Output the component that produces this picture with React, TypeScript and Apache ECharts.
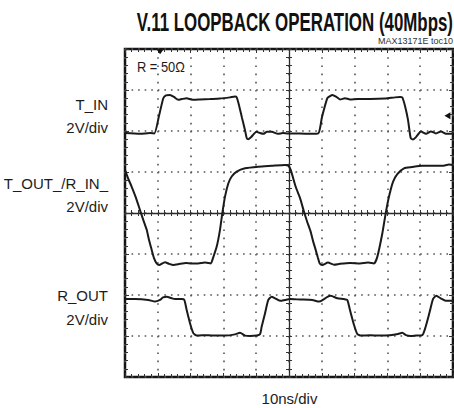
import React, { useEffect, useRef } from 'react';
import * as echarts from 'echarts';

// Time in ns (10 ns/div, trigger at centre), amplitude in divisions
const tInTime = [-50, -45.43, -42.38, -41.07, -39.63, -38.32, -37.5, -36.28, -35.06, -33.75, -32.62, -31.19, -29.88, -28.66, -27.13, -24.09, -21.04, -17.99, -16.46, -15.95, -15.24, -14.33, -13.41, -12.9, -12.41, -11.59, -9.86, -8.84, -7.83, -6.71, -5.27, -3.35, -1.83, -0.3, 3.35, 6.4, 8.93, 10.06, 11.68, 12.5, 13.2, 14.33, 15.55, 17.07, 18.6, 21.04, 24.7, 29.27, 32.32, 33.84, 34.54, 35.37, 36.28, 37.1, 37.8, 38.72, 40.24, 41.77, 43.29, 44.82, 46.34, 47.87, 50];
const tInVolts = [1.95, 1.93, 1.95, 1.94, 2.37, 2.8, 2.87, 2.88, 2.83, 2.76, 2.78, 2.8, 2.77, 2.76, 2.77, 2.78, 2.79, 2.82, 2.84, 2.82, 2.63, 2.32, 2.02, 1.83, 1.8, 1.85, 1.98, 1.95, 1.93, 1.98, 1.98, 1.93, 1.95, 1.94, 1.94, 1.93, 1.94, 2.34, 2.8, 2.85, 2.88, 2.84, 2.77, 2.8, 2.77, 2.78, 2.78, 2.79, 2.82, 2.83, 2.82, 2.61, 2.27, 1.83, 1.79, 1.85, 1.99, 1.93, 1.99, 1.94, 1.99, 1.93, 1.94];

const tOutTime = [-50, -49.09, -47.96, -46.65, -45.43, -44.51, -43.38, -42.68, -41.86, -41.16, -40.34, -39.63, -37.8, -36.59, -35.27, -33.23, -31.4, -29.66, -27.74, -25.61, -23.78, -23.38, -22.04, -21.04, -20.34, -19.51, -18.51, -17.47, -15.95, -13.41, -9.36, -5.27, -1.22, -0.21, 0.52, 2.04, 3.35, 4.57, 5.49, 6.62, 7.32, 8.14, 8.84, 9.36, 10.15, 11.89, 13.72, 15.55, 18.6, 21.65, 24.09, 25.91, 26.92, 28.45, 29.48, 30.49, 31.71, 33.02, 35.06, 37.5, 40.64, 43.6, 46.74, 48.78, 50];
const tOutVolts = [1.05, 0.85, 0.64, 0.37, 0.07, -0.15, -0.41, -0.66, -0.9, -1.1, -1.23, -1.27, -1.2, -1.24, -1.27, -1.24, -1.22, -1.23, -1.23, -1.21, -1.23, -1.15, -0.82, -0.41, -0.01, 0.4, 0.72, 0.89, 1.01, 1.09, 1.13, 1.15, 1.17, 1.15, 1.05, 0.64, 0.37, 0.03, -0.2, -0.46, -0.68, -0.9, -1.1, -1.23, -1.27, -1.21, -1.26, -1.24, -1.22, -1.23, -1.21, -1.23, -1.07, -0.5, -0.01, 0.4, 0.76, 0.95, 1.09, 1.12, 1.15, 1.15, 1.15, 1.18, 1.17];

const rOutTime = [-50, -46.95, -42.9, -40.85, -39.33, -38.41, -37.29, -35.76, -34.76, -32.71, -31.92, -31.19, -30.18, -29.18, -28.14, -26.52, -24.6, -22.56, -19.51, -16.46, -14.94, -13.41, -11.89, -9.85, -8.84, -8.32, -7.32, -6.31, -5.27, -4.27, -2.74, -1.22, 0.3, 3.35, 7.1, 9.15, 10.67, 11.59, 12.71, 14.73, 16.77, 17.77, 18.6, 19.82, 20.82, 21.95, 24.7, 27.74, 30.79, 33.23, 34.54, 35.67, 37.1, 38.72, 40.64, 41.68, 42.9, 43.9, 44.91, 46.25, 47.78, 50];
const rOutVolts = [-2.1, -2.1, -2.12, -2.16, -2.12, -2.06, -2.04, -2.08, -2.1, -2.1, -2.12, -2.37, -2.69, -2.93, -2.99, -2.98, -2.98, -2.99, -2.99, -2.96, -2.92, -2.99, -3.0, -2.99, -2.96, -2.77, -2.45, -2.12, -2.04, -2.08, -2.14, -2.12, -2.1, -2.11, -2.12, -2.16, -2.1, -2.05, -2.02, -2.08, -2.1, -2.12, -2.37, -2.73, -2.95, -2.99, -2.98, -2.99, -2.98, -2.95, -2.92, -2.98, -3.0, -2.99, -2.98, -2.77, -2.41, -2.1, -2.02, -2.08, -2.14, -2.14];

// scope markers (decorations, in data units)
const triggerMarker = [-39.3, 3.93];
const levelMarker = [48.3, 2.37];

const channelLabels = ['T_IN', 'T_OUT_/R_IN_', 'R_OUT'];
const scaleLabel = '2V/div';
const timeLabel = '10ns/div';
const titleText = 'V.11 LOOPBACK OPERATION (40Mbps)';
const subTitleText = 'MAX13171E toc10';
const noteText = 'R = 50Ω';

const FONT = '"Liberation Sans", Arial, Helvetica, sans-serif';

const zip = (t: number[], v: number[]) => t.map((x, i) => [x, v[i]]);

function txt(text: string, x: number, y: number, size: number, align: string, opts: any = {}) {
  return {
    type: 'text',
    x,
    y,
    scaleX: opts.scaleX ?? 1,
    silent: true,
    style: {
      text,
      fill: opts.fill ?? '#1c1c1c',
      fontSize: size,
      fontFamily: FONT,
      fontWeight: opts.bold ? 'bold' : 'normal',
      align,
      textAlign: align,
      verticalAlign: 'middle',
      textVerticalAlign: 'middle',
    },
  };
}

export default function App() {
  const ref = useRef<HTMLDivElement>(null);
  useEffect(() => {
    const chart = echarts.init(ref.current!, null, { renderer: 'svg', width: 454, height: 408 });
    const tick = { color: '#333', width: 1 };
    const noSplit = { show: false };
    const baseX: any = { type: 'value', min: -50, max: 50, interval: 10, axisLabel: { show: false } };
    const baseY: any = { type: 'value', min: -4, max: 4, interval: 1, axisLabel: { show: false } };
    const minor = (len: number) => ({ show: true, splitNumber: 5, length: len, lineStyle: tick });
    const lineSeries = (name: string, data: number[][], extra: any = {}) => ({
      type: 'line',
      name,
      data,
      xAxisIndex: 0,
      yAxisIndex: 0,
      showSymbol: false,
      smooth: 0.2,
      silent: true,
      z: 5,
      lineStyle: { color: '#1a1a1a', width: 2 },
      ...extra,
    });
    chart.setOption({
      animation: false,
      backgroundColor: '#fff',
      grid: { left: 125, top: 49, width: 328, height: 328, show: true, borderColor: '#151515', borderWidth: 2.5 },
      xAxis: [
        { ...baseX, position: 'bottom', axisLine: { show: false, onZero: false }, axisTick: { show: true, inside: true, length: 4, lineStyle: tick }, minorTick: minor(3),
          splitLine: { show: true, lineStyle: { color: '#555', width: 1.6, type: [1.6, 6.6] } } },
        { ...baseX, position: 'top', axisLine: { show: false, onZero: false }, axisTick: { show: true, inside: true, length: 4, lineStyle: tick }, minorTick: minor(3), splitLine: noSplit },
        { ...baseX, position: 'bottom', axisLine: { show: true, onZero: true, onZeroAxisIndex: 0, lineStyle: { color: '#2a2a2a', width: 1.3 } }, axisTick: { show: true, inside: true, length: 3, lineStyle: tick }, minorTick: minor(3), splitLine: noSplit },
        { ...baseX, position: 'bottom', axisLine: { show: false, onZero: true, onZeroAxisIndex: 0 }, axisTick: { show: true, inside: false, length: 3, lineStyle: tick }, minorTick: minor(3), splitLine: noSplit },
      ],
      yAxis: [
        { ...baseY, position: 'left', axisLine: { show: false, onZero: false }, axisTick: { show: true, inside: true, length: 4, lineStyle: tick }, minorTick: minor(3),
          splitLine: { show: true, lineStyle: { color: '#555', width: 1.6, type: [1.6, 4.96] } } },
        { ...baseY, position: 'right', axisLine: { show: false, onZero: false }, axisTick: { show: true, inside: true, length: 4, lineStyle: tick }, minorTick: minor(3), splitLine: noSplit },
        { ...baseY, position: 'left', axisLine: { show: true, onZero: true, onZeroAxisIndex: 0, lineStyle: { color: '#2a2a2a', width: 1.3 } }, axisTick: { show: true, inside: true, length: 3, lineStyle: tick }, minorTick: minor(3), splitLine: noSplit },
        { ...baseY, position: 'left', axisLine: { show: false, onZero: true, onZeroAxisIndex: 0 }, axisTick: { show: true, inside: false, length: 3, lineStyle: tick }, minorTick: minor(3), splitLine: noSplit },
      ],
      series: [
        lineSeries(channelLabels[0], zip(tInTime, tInVolts), {
          markPoint: {
            silent: true,
            label: { show: false },
            itemStyle: { color: '#111' },
            data: [
              { coord: levelMarker, symbol: 'triangle', symbolSize: [7, 6], symbolRotate: 90 },
              { coord: triggerMarker, symbol: 'triangle', symbolSize: [7, 5], symbolRotate: 180 },
            ],
          },
        }),
        lineSeries(channelLabels[1], zip(tOutTime, tOutVolts)),
        lineSeries(channelLabels[2], zip(rOutTime, rOutVolts)),
      ],
      graphic: [
        txt(titleText, 453, 22.5, 26, 'right', { bold: true, scaleX: 0.65, fill: '#111' }),
        txt(subTitleText, 453, 40.5, 9, 'right', { fill: '#333' }),
        txt(noteText, 137, 67, 14, 'left', { scaleX: 0.92 }),
        txt(channelLabels[0], 108, 104, 15, 'right'),
        txt(scaleLabel, 108, 127.5, 15, 'right'),
        txt(channelLabels[1], 108, 183.5, 15, 'right'),
        txt(scaleLabel, 108, 206, 15, 'right'),
        txt(channelLabels[2], 108, 295.5, 15, 'right'),
        txt(scaleLabel, 108, 319, 15, 'right'),
        txt(timeLabel, 289.5, 398, 15, 'center'),
      ],
    });
    return () => chart.dispose();
  }, []);
  return <div ref={ref} style={{ position: 'fixed', left: 0, top: 0, width: 454, height: 408, background: '#fff' }} />;
}
